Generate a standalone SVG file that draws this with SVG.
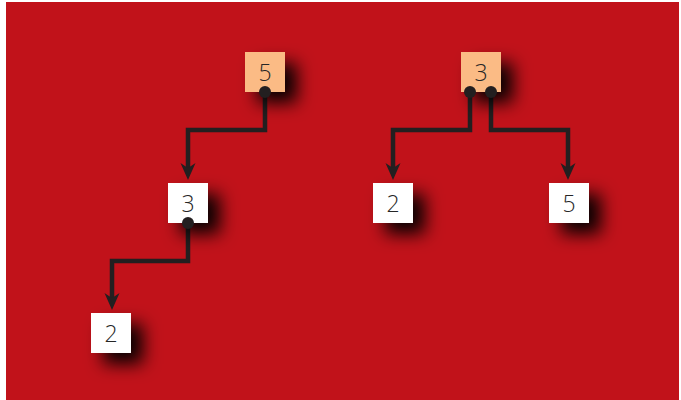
<svg xmlns="http://www.w3.org/2000/svg" width="681" height="400" viewBox="0 0 681 400">
  <style>
    .box { fill: #ffffff; }
    .box.hot { fill: #fbbb85; }
    .lbl { font-family: "Open Sans", "DejaVu Sans", sans-serif; font-size: 23px; font-weight: 300; fill: #262626; text-anchor: middle; }
    .wire { fill: none; stroke: #231f20; stroke-width: 4.5; stroke-linejoin: miter; }
    .dot { fill: #231f20; }
  </style>
  <defs>
    <filter id="shade" x="-80%" y="-80%" width="280%" height="280%">
      <feDropShadow dx="12" dy="11" stdDeviation="8.5" flood-color="#000000" flood-opacity="0.95"/>
    </filter>
    <!-- notched arrowhead; tip sits 10px past the end of the line -->
    <marker id="head" viewBox="-8 -9 19 18" refX="0" refY="0" markerWidth="19" markerHeight="18" markerUnits="userSpaceOnUse" orient="auto">
      <path d="M10,0 L-7,-7.5 L-2,0 L-7,7.5 Z" fill="#231f20"/>
    </marker>
  </defs>

  <!-- backdrop -->
  <rect x="6" y="2" width="673" height="398" fill="#c1121a"/>

  <!-- connectors -->
  <g id="connectors">
    <path class="wire" d="M265,92 V130 H188 V170" marker-end="url(#head)"/>
    <path class="wire" d="M188,223 V261 H112 V300" marker-end="url(#head)"/>
    <path class="wire" d="M470,92 V130 H393 V170" marker-end="url(#head)"/>
    <path class="wire" d="M491,92 V130 H568 V170" marker-end="url(#head)"/>
  </g>

  <!-- first tree -->
  <g id="a5">
    <rect class="box hot" x="245" y="52" width="40" height="40" filter="url(#shade)"/>
    <text class="lbl" x="265" y="81">5</text>
  </g>
  <g id="a3">
    <rect class="box" x="168" y="183" width="40" height="40" filter="url(#shade)"/>
    <text class="lbl" x="188" y="212">3</text>
  </g>
  <g id="a2">
    <rect class="box" x="91" y="313" width="40" height="40" filter="url(#shade)"/>
    <text class="lbl" x="111" y="342">2</text>
  </g>

  <!-- second tree -->
  <g id="b3">
    <rect class="box hot" x="461" y="52" width="40" height="40" filter="url(#shade)"/>
    <text class="lbl" x="481" y="81">3</text>
  </g>
  <g id="b2">
    <rect class="box" x="373" y="183" width="40" height="40" filter="url(#shade)"/>
    <text class="lbl" x="393" y="212">2</text>
  </g>
  <g id="b5">
    <rect class="box" x="549" y="183" width="40" height="40" filter="url(#shade)"/>
    <text class="lbl" x="569" y="212">5</text>
  </g>

  <!-- pointer origins -->
  <g id="origins">
    <circle class="dot" cx="265" cy="92" r="6"/>
    <circle class="dot" cx="188" cy="223" r="6"/>
    <circle class="dot" cx="470" cy="92" r="6"/>
    <circle class="dot" cx="491" cy="92" r="6"/>
  </g>
</svg>
